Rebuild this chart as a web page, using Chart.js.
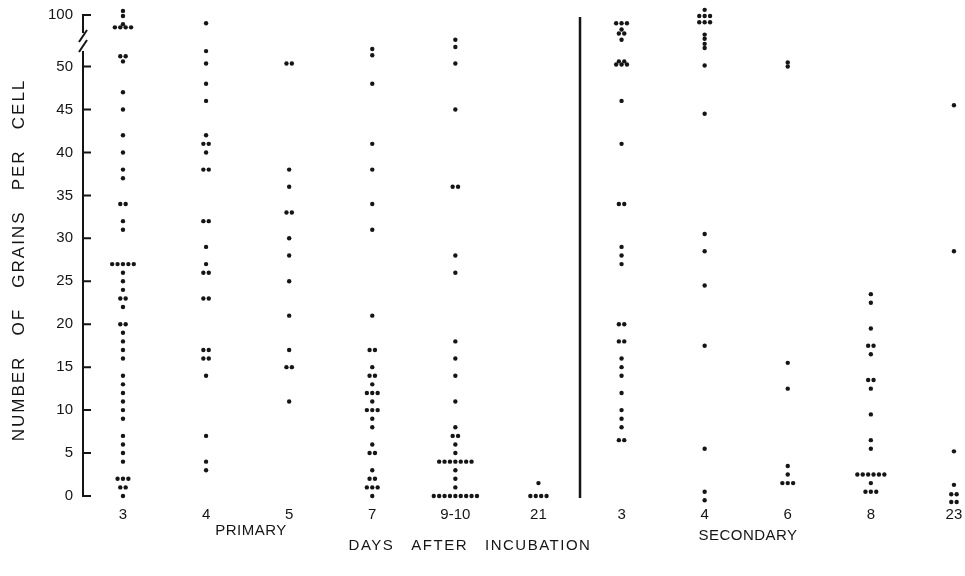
<!doctype html>
<html>
<head>
<script src="https://cdn.jsdelivr.net/npm/chart.js"></script>
<style>
  body { margin: 0; background: #fff; }
  #chart { display: block; }
</style>
</head>
<body>
<canvas id="chart" width="965" height="576"></canvas>
<script>
// grains per cell, one array per day column
const primaryDays = ['3', '4', '5', '7', '9-10', '21'];
const secondaryDays = ['3', '4', '6', '8', '23'];

const prim3 = [104, 99, 91, 88, 88, 88, 88, 60, 60, 55, 47, 45, 42, 40, 38, 37, 34, 34, 32, 31,
  27, 27, 27, 27, 27, 26, 25, 24, 23, 23, 22, 20, 20, 19, 18, 17, 16, 14, 13, 12, 11, 10, 9,
  7, 6, 5, 4, 2, 2, 2, 1, 1, 0];
const prim4 = [92, 65, 53, 48, 46, 42, 41, 41, 40, 38, 38, 32, 32, 29, 27, 26, 26, 23, 23,
  17, 17, 16, 16, 14, 7, 4, 3];
const prim5 = [53, 53, 38, 36, 33, 33, 30, 28, 25, 21, 17, 15, 15, 11];
const prim7 = [67, 61, 48, 41, 38, 34, 31, 21, 17, 17, 15, 14, 14, 13, 12, 12, 12, 11, 10, 10, 10,
  9, 8, 6, 5, 5, 3, 2, 2, 1, 1, 1, 0];
const prim9_10 = [76, 69, 53, 45, 36, 36, 28, 26, 18, 16, 14, 11, 8, 7, 7, 6, 5,
  4, 4, 4, 4, 4, 4, 4, 3, 2, 1, 0, 0, 0, 0, 0, 0, 0, 0, 0];
const prim21 = [1.5, 0, 0, 0, 0];

const sec3 = [92, 92, 92, 86, 82, 82, 76, 55, 55, 52, 52, 52, 46, 41, 34, 34, 29, 28, 27,
  20, 20, 18, 18, 16, 15, 14, 12, 10, 9, 8, 6.5, 6.5];
const sec4 = [105, 99, 99, 99, 93, 93, 93, 81, 77, 72, 68, 51, 44.5, 30.5, 28.5, 24.5, 17.5, 5.5, 0.5, -0.5];
const sec6 = [54, 50, 15.5, 12.5, 3.5, 2.5, 1.5, 1.5, 1.5];
const sec8 = [23.5, 22.5, 19.5, 17.5, 17.5, 16.5, 13.5, 13.5, 12.5, 9.5, 6.5, 5.5,
  2.5, 2.5, 2.5, 2.5, 2.5, 2.5, 1.5, 0.5, 0.5, 0.5];
const sec23 = [45.5, 28.5, 5.2, 1.3, 0.2, 0.2, -0.7, -0.7];

const yTicks = [0, 5, 10, 15, 20, 25, 30, 35, 40, 45, 50, 100];

const columns = [prim3, prim4, prim5, prim7, prim9_10, prim21, sec3, sec4, sec6, sec8, sec23];
const dayLabels = primaryDays.concat(secondaryDays);

// axis is broken above 50: 50..100 squeezed into 6 units
function axisValue(v) {
  return v <= 50 ? v : 50 + (v - 50) * 6 / 50;
}

// equal counts in a column sit side by side
const points = [];
columns.forEach(function (vals, col) {
  const count = {};
  vals.forEach(function (v) { count[v] = (count[v] || 0) + 1; });
  const used = {};
  vals.forEach(function (v) {
    const k = used[v] || 0;
    used[v] = k + 1;
    points.push({ x: col + (k - (count[v] - 1) / 2) * 0.065, y: axisValue(v) });
  });
});

// layout: 0 sits at y=496, 100 at y=15; a little room above and below for stray dots
const Y_MIN = -1.2, Y_MAX = 56.9;
const pxPerUnit = (496 - 15) / axisValue(100);
const areaTop = 496 - Y_MAX * pxPerUnit;
const areaBottom = 496 - Y_MIN * pxPerUnit;

const FONT = "'Liberation Sans', Arial, sans-serif";
const INK = '#151515';

const decorations = {
  id: 'decorations',
  afterDraw(chart) {
    const ctx = chart.ctx;
    const x = chart.scales.x, y = chart.scales.y;
    const left = chart.chartArea.left;
    const top = y.getPixelForValue(axisValue(100));
    const bottom = y.getPixelForValue(0);
    ctx.save();
    ctx.strokeStyle = INK;
    ctx.lineWidth = 2;
    // y axis with the break
    ctx.beginPath();
    ctx.moveTo(left, top);
    ctx.lineTo(left, 33);
    ctx.moveTo(left + 4, 30);
    ctx.lineTo(left - 4, 42);
    ctx.moveTo(left + 4, 40);
    ctx.lineTo(left - 4, 52);
    ctx.moveTo(left, 51);
    ctx.lineTo(left, bottom);
    ctx.stroke();
    // ticks point inward
    ctx.beginPath();
    yTicks.forEach(function (v) {
      const py = y.getPixelForValue(axisValue(v));
      ctx.moveTo(left - 1, py);
      ctx.lineTo(left + 8, py);
    });
    ctx.stroke();
    // primary / secondary divider
    const dx = x.getPixelForValue(5.5);
    ctx.lineWidth = 2.5;
    ctx.beginPath();
    ctx.moveTo(dx, 17);
    ctx.lineTo(dx, 498);
    ctx.stroke();

    ctx.fillStyle = INK;
    ctx.textAlign = 'center';
    ctx.textBaseline = 'middle';
    ctx.font = '15px ' + FONT;
    ctx.letterSpacing = '0.5px';
    ctx.fillText('PRIMARY', 251, 531);
    ctx.fillText('SECONDARY', 748, 536);
    ctx.letterSpacing = '1.5px';
    ctx.fillText('DAYS   AFTER   INCUBATION', 470, 546);
    ctx.translate(19, 260);
    ctx.rotate(-Math.PI / 2);
    ctx.font = '17px ' + FONT;
    ctx.letterSpacing = '2px';
    ctx.fillText('NUMBER   OF   GRAINS   PER   CELL', 0, 0);
    ctx.restore();
  }
};

new Chart(document.getElementById('chart'), {
  type: 'scatter',
  data: {
    datasets: [{
      data: points,
      pointRadius: 2.2,
      pointHoverRadius: 2.2,
      backgroundColor: INK,
      borderWidth: 0,
      clip: false
    }]
  },
  options: {
    responsive: false,
    animation: false,
    events: [],
    layout: { autoPadding: false, padding: { top: areaTop, left: 0, right: 0, bottom: 0 } },
    plugins: { legend: { display: false }, tooltip: { enabled: false } },
    scales: {
      x: {
        type: 'linear',
        min: -0.481,
        max: 10.133,
        grid: { display: false, drawTicks: false },
        border: { display: false },
        afterBuildTicks: function (s) { s.ticks = dayLabels.map(function (_, i) { return { value: i }; }); },
        afterFit: function (s) {
          s.height = 576 - areaBottom;
          s.paddingLeft = 0;
          s.paddingRight = 0;
        },
        ticks: {
          autoSkip: false,
          maxRotation: 0,
          padding: 0,
          color: INK,
          font: { family: FONT, size: 15 },
          callback: function (v) { return dayLabels[v]; }
        }
      },
      y: {
        min: Y_MIN,
        max: Y_MAX,
        grid: { display: false, drawTicks: false },
        border: { display: false },
        afterBuildTicks: function (s) { s.ticks = yTicks.map(function (v) { return { value: axisValue(v) }; }); },
        afterFit: function (s) {
          s.width = 83;
          s.paddingTop = 0;
          s.paddingBottom = 0;
        },
        ticks: {
          padding: 10,
          color: INK,
          font: { family: FONT, size: 15 },
          callback: function (v, i) { return yTicks[i]; }
        }
      }
    }
  },
  plugins: [decorations]
});
</script>
</body>
</html>
